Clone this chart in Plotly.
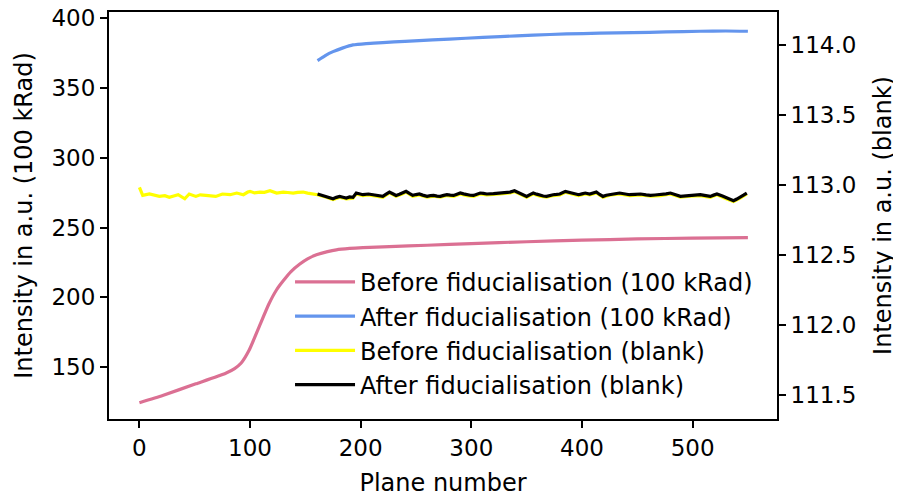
import plotly.graph_objects as go

# ---------------- data ----------------
pink_x = [0, 21, 51, 78, 86, 92, 99, 108, 117, 124, 130, 137, 145, 152, 160, 170, 178, 190, 202, 226, 260, 300, 350, 400, 450, 500, 550]
pink_y = [124.6, 129.8, 138.1, 145.7, 149.0, 153.0, 161.9, 178.6, 195.3, 205.5, 211.9, 218.5, 223.9, 227.6, 230.5, 232.8, 234.1, 235.1, 235.7, 236.4, 237.4, 238.6, 239.9, 241.0, 241.9, 242.5, 242.8]

blue_x = [161, 168, 175, 184, 193, 205, 220, 240, 265, 295, 326, 356, 386, 416, 446, 476, 507, 530, 550]
blue_y = [369.7, 373.3, 376.1, 378.8, 380.9, 381.9, 382.6, 383.5, 384.5, 385.7, 386.9, 387.9, 388.8, 389.3, 389.7, 390.2, 390.7, 390.9, 390.7]

yellow_x = [0, 3, 9, 14, 18, 23, 27, 31, 35, 41, 45, 51, 55, 60, 65, 69, 75, 82, 88, 94, 98, 100, 104, 109, 113, 118, 124, 130, 134, 139, 143, 148, 152, 157, 161,
            169, 175, 181, 187, 193, 196, 202, 207, 214, 220, 226, 232, 238, 241, 247, 253, 260, 266, 272, 278, 284, 290, 296, 302, 308, 314, 326, 335, 339, 344,
            350, 356, 362, 368, 374, 380, 385, 391, 397, 403, 407, 413, 419, 425, 434, 443, 453, 462, 471, 480, 489, 498, 507, 516, 522, 531, 537, 543, 549]
yellow_y = [112.984, 112.926, 112.936, 112.925, 112.919, 112.924, 112.912, 112.922, 112.931, 112.902, 112.936, 112.919, 112.930, 112.926, 112.921, 112.919, 112.936, 112.931, 112.943, 112.931, 112.950, 112.955, 112.944, 112.950, 112.948, 112.959, 112.943, 112.950, 112.947, 112.943, 112.948, 112.950, 112.942, 112.936, 112.931,
            112.913, 112.896, 112.913, 112.901, 112.906, 112.937, 112.925, 112.930, 112.920, 112.913, 112.944, 112.920, 112.937, 112.949, 112.920, 112.930, 112.913, 112.920, 112.913, 112.925, 112.920, 112.937, 112.925, 112.920, 112.937, 112.930, 112.937, 112.944, 112.953, 112.937,
            112.913, 112.937, 112.920, 112.913, 112.925, 112.930, 112.949, 112.937, 112.925, 112.937, 112.930, 112.944, 112.913, 112.927, 112.937, 112.925, 112.930, 112.920, 112.925, 112.937, 112.913, 112.920, 112.925, 112.913, 112.930, 112.901, 112.882, 112.906, 112.937]

black_x = [161, 166, 169, 172, 175, 178, 181, 184, 187, 190, 193, 196, 199, 202, 207, 211, 214, 217, 220, 223, 226, 229, 232, 235, 238, 241, 244, 247, 250, 253, 256, 260, 263, 266, 269, 272, 275, 278, 281, 284, 287, 290, 293, 296, 299, 302, 305, 308, 311, 314, 320, 326, 330, 335, 339, 344,
           347, 350, 353, 356, 359, 362, 365, 368, 371, 374, 377, 380, 385, 388, 391, 394, 397, 400, 403, 407, 410, 413, 416, 419, 422, 425, 430, 434, 438, 443, 448, 453, 458, 462, 466, 471, 476, 480, 485, 489, 494, 498, 503, 507, 512, 516, 519, 522, 527, 531, 534, 537, 540, 543, 546, 549]
black_y = [112.936, 112.925, 112.919, 112.910, 112.902, 112.912, 112.919, 112.913, 112.907, 112.915, 112.912, 112.943, 112.935, 112.931, 112.936, 112.930, 112.926, 112.922, 112.919, 112.935, 112.950, 112.938, 112.926, 112.934, 112.943, 112.955, 112.940, 112.926, 112.932, 112.936, 112.928, 112.919, 112.924, 112.926, 112.921, 112.919, 112.926, 112.931, 112.928, 112.926, 112.935, 112.943, 112.937, 112.931, 112.927, 112.926, 112.934, 112.943, 112.940, 112.936, 112.939, 112.943, 112.946, 112.950, 112.959, 112.943,
           112.930, 112.919, 112.932, 112.943, 112.935, 112.926, 112.922, 112.919, 112.926, 112.931, 112.933, 112.936, 112.955, 112.949, 112.943, 112.937, 112.931, 112.937, 112.943, 112.936, 112.944, 112.950, 112.933, 112.919, 112.927, 112.933, 112.938, 112.943, 112.936, 112.931, 112.934, 112.936, 112.930, 112.926, 112.929, 112.931, 112.937, 112.943, 112.930, 112.919, 112.922, 112.926, 112.929, 112.931, 112.924, 112.919, 112.928, 112.936, 112.921, 112.907, 112.897, 112.888, 112.900, 112.912, 112.928, 112.943]

x_ticks = [0, 100, 200, 300, 400, 500]
y_ticks = [150, 200, 250, 300, 350, 400]
y2_ticks = [111.5, 112.0, 112.5, 113.0, 113.5, 114.0]

names = ["Before fiducialisation (100 kRad)", "After fiducialisation (100 kRad)",
         "Before fiducialisation (blank)", "After fiducialisation (blank)"]

FONT = "DejaVu Sans"
FS = 24
TFS = 23
LW = 3.2

fig = go.Figure()
fig.add_trace(go.Scatter(x=pink_x, y=pink_y, mode="lines", name=names[0],
                         line=dict(color="#DB7093", width=LW, shape="spline", smoothing=0.5), legendgroup="a"))
fig.add_trace(go.Scatter(x=blue_x, y=blue_y, mode="lines", name=names[1],
                         line=dict(color="#6495ED", width=LW, shape="spline", smoothing=0.6), legendgroup="b"))
fig.add_trace(go.Scatter(x=yellow_x, y=yellow_y, mode="lines", name=names[2], yaxis="y2",
                         line=dict(color="#FFFF00", width=LW), legendgroup="c"))
fig.add_trace(go.Scatter(x=black_x, y=black_y, mode="lines", name=names[3], yaxis="y2",
                         line=dict(color="#000000", width=LW), legendgroup="d"))

axis_common = dict(showgrid=False, zeroline=False, showline=True, linecolor="black", linewidth=2,
                   ticks="outside", ticklen=7, tickwidth=2, tickcolor="black", automargin=False,
                   ticklabeloverflow="allow",
                   tickfont=dict(family=FONT, size=TFS, color="black"))

# page body has an 8px margin, so the figure is sized to the visible area
fig.update_layout(
    width=893, height=489,
    margin=dict(l=101, r=124, t=4, b=78, autoexpand=False),
    paper_bgcolor="white", plot_bgcolor="white",
    font=dict(family=FONT, size=FS, color="black"),
    showlegend=True,
    legend=dict(x=0.271, y=0.391, xanchor="left", yanchor="top", bgcolor="rgba(255,255,255,0)",
                itemwidth=60,
                font=dict(family=FONT, size=FS, color="black"), tracegroupgap=5, traceorder="normal"),
    xaxis=dict(range=[-27.5, 576.3], tickvals=x_ticks, mirror=True,
               title=dict(text="Plane number", font=dict(family=FONT, size=FS), standoff=17), **axis_common),
    yaxis=dict(range=[112.9, 404.5], tickvals=y_ticks,
               title=dict(text="Intensity in a.u. (100 kRad)", font=dict(family=FONT, size=FS), standoff=12), **axis_common),
    yaxis2=dict(range=[111.329, 114.236], tickvals=y2_ticks, tickformat=".1f", overlaying="y", side="right",
                title=dict(text="Intensity in a.u. (blank)", font=dict(family=FONT, size=FS), standoff=19), **axis_common),
)

fig.write_html("out.html")
